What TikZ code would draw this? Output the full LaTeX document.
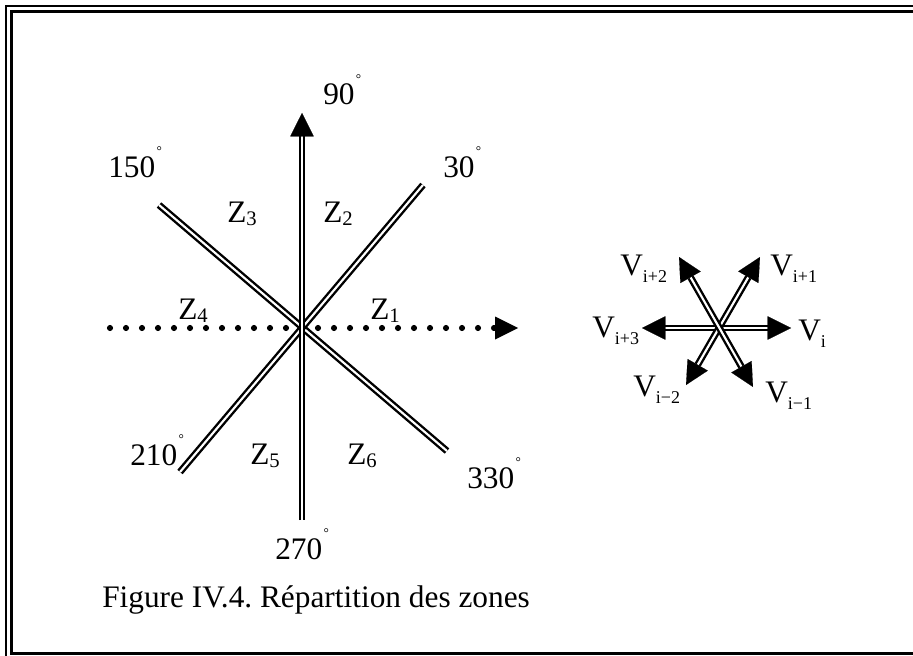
\documentclass[tikz,border=0pt]{standalone}
\usepackage{fontspec}
\setmainfont{Liberation Serif}
\usetikzlibrary{arrows.meta}
\frenchspacing
\newcommand\dgr{\kern1pt\raisebox{0.7em}{\fontsize{10}{10}\selectfont °}}
\newcommand\zsb[1]{\raisebox{-2.5pt}{\fontsize{15.5}{15.5}\selectfont #1}}
\newcommand\vsb[1]{\raisebox{-5.5pt}{\fontsize{13.5}{13.5}\selectfont #1}}
\begin{document}
\begin{tikzpicture}[x=0.75pt,y=-0.75pt,
  dbl/.style={double=white, double distance=1.6pt, line width=1.8pt},
  tipend/.style={-{Triangle[length=17.5pt,width=17.5pt,line width=0.1pt]}},
  tipboth/.style={{Triangle[length=17.5pt,width=17.5pt,line width=0.1pt]}-{Triangle[length=17.5pt,width=17.5pt,line width=0.1pt]}},
  lbl/.style={font=\fontsize{23.5}{23.5}\selectfont, inner sep=0pt, anchor=base west},
  dotline/.style={line width=4.6pt, line cap=round, dash pattern=on 0pt off 12pt}
]
\useasboundingbox (0,0) rectangle (913,656);
\clip (0,0) rectangle (913,656);
% frame
\draw[line width=1.6pt] (6,6) rectangle (940,690);
\draw[line width=2pt] (11.5,11.5) rectangle (930,653.5);

% left diagram coordinates
\coordinate (C) at (302,327);
\coordinate (n90) at (302,113);
\coordinate (s270) at (302,520);
\coordinate (e150) at (159,205);
\coordinate (e330) at (447,451);
\coordinate (e30) at (423,185);
\coordinate (e210) at (180,472);
\coordinate (hl) at (110,328);
\coordinate (hr) at (518,328);

\draw[dotline] (hl) -- (hr);
\fill (hr) -- ++(-23,-11.5) -- ++(0,23) -- cycle;
\draw[dbl] (e150) -- (e330);
\draw[dbl] (e210) -- (e30);
\draw[dbl, tipend] (s270) -- (n90);

\node[lbl] (l90) at (323,105) {90\dgr};
\node[lbl] (l150) at (108,177) {150\dgr};
\node[lbl] (l30) at (443,177) {30\dgr};
\node[lbl] (l210) at (130,465) {210\dgr};
\node[lbl] (l330) at (467,488) {330\dgr};
\node[lbl] (l270) at (275,559) {270\dgr};

\node[lbl] (z3) at (227,222) {Z\zsb{3}};
\node[lbl] (z2) at (323,222) {Z\zsb{2}};
\node[lbl] (z4) at (178,319) {Z\zsb{4}};
\node[lbl] (z1) at (370,319) {Z\zsb{1}};
\node[lbl] (z5) at (250,464) {Z\zsb{5}};
\node[lbl] (z6) at (347,464) {Z\zsb{6}};

\node[lbl] (cap) at (102,607) {Figure IV.4. Répartition des zones};

% right diagram
\coordinate (R) at (718,328);
\coordinate (vr) at (791,328);
\coordinate (vl) at (642,328);
\coordinate (vur) at (760,257);
\coordinate (vll) at (686,385);
\coordinate (vul) at (679,257);
\coordinate (vlr) at (753,387);
\draw[dbl, tipboth] (vl) -- (vr);
\draw[dbl, tipboth] (vll) -- (vur);
\draw[dbl, tipboth] (vlr) -- (vul);

\node[lbl] (v2) at (620,275) {V\vsb{i+2}};
\node[lbl] (v1) at (770,275) {V\vsb{i+1}};
\node[lbl] (v3) at (592,337) {V\vsb{i+3}};
\node[lbl] (v0) at (798,340) {V\vsb{i}};
\node[lbl] (vm2) at (633,396) {V\vsb{i−2}};
\node[lbl] (vm1) at (765,402) {V\vsb{i−1}};
\end{tikzpicture}
\end{document}
